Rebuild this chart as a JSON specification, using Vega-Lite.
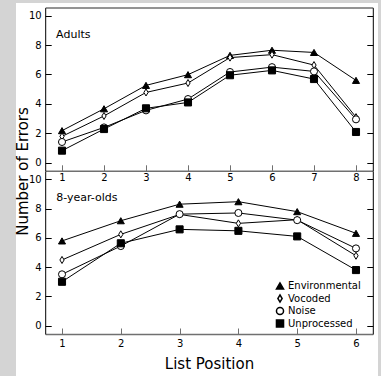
{
  "$schema": "https://vega.github.io/schema/vega-lite/v6.json",
  "background": "#d4d4d4",
  "padding": {"left": 15, "top": 3, "right": 4, "bottom": 0},
  "spacing": 0,
  "bounds": "flush",
  "config": {
    "font": "DejaVu Sans",
    "view": {"fill": "white", "stroke": null},
    "axis": {"labelFont": "DejaVu Sans", "labelFontSize": 10, "labelColor": "black", "domainColor": "black", "tickColor": "black", "grid": false, "titleFont": "DejaVu Sans", "titleFontWeight": "normal", "titleColor": "black", "titleFontSize": 15},
    "legend": {"labelFont": "DejaVu Sans", "labelFontSize": 10, "labelColor": "black"}
  },
  "data": {"values": [
    {"group": "Adults", "series": "Environmental", "pos": 1, "errors": 2.18},
    {"group": "Adults", "series": "Environmental", "pos": 2, "errors": 3.67},
    {"group": "Adults", "series": "Environmental", "pos": 3, "errors": 5.26},
    {"group": "Adults", "series": "Environmental", "pos": 4, "errors": 5.99},
    {"group": "Adults", "series": "Environmental", "pos": 5, "errors": 7.3},
    {"group": "Adults", "series": "Environmental", "pos": 6, "errors": 7.65},
    {"group": "Adults", "series": "Environmental", "pos": 7, "errors": 7.5},
    {"group": "Adults", "series": "Environmental", "pos": 8, "errors": 5.6},
    {"group": "Adults", "series": "Vocoded", "pos": 1, "errors": 1.79},
    {"group": "Adults", "series": "Vocoded", "pos": 2, "errors": 3.18},
    {"group": "Adults", "series": "Vocoded", "pos": 3, "errors": 4.78},
    {"group": "Adults", "series": "Vocoded", "pos": 4, "errors": 5.42},
    {"group": "Adults", "series": "Vocoded", "pos": 5, "errors": 7.15},
    {"group": "Adults", "series": "Vocoded", "pos": 6, "errors": 7.35},
    {"group": "Adults", "series": "Vocoded", "pos": 7, "errors": 6.64},
    {"group": "Adults", "series": "Vocoded", "pos": 8, "errors": 3.1},
    {"group": "Adults", "series": "Noise", "pos": 1, "errors": 1.41},
    {"group": "Adults", "series": "Noise", "pos": 2, "errors": 2.4},
    {"group": "Adults", "series": "Noise", "pos": 3, "errors": 3.56},
    {"group": "Adults", "series": "Noise", "pos": 4, "errors": 4.33},
    {"group": "Adults", "series": "Noise", "pos": 5, "errors": 6.17},
    {"group": "Adults", "series": "Noise", "pos": 6, "errors": 6.5},
    {"group": "Adults", "series": "Noise", "pos": 7, "errors": 6.21},
    {"group": "Adults", "series": "Noise", "pos": 8, "errors": 2.95},
    {"group": "Adults", "series": "Unprocessed", "pos": 1, "errors": 0.82},
    {"group": "Adults", "series": "Unprocessed", "pos": 2, "errors": 2.29},
    {"group": "Adults", "series": "Unprocessed", "pos": 3, "errors": 3.7},
    {"group": "Adults", "series": "Unprocessed", "pos": 4, "errors": 4.1},
    {"group": "Adults", "series": "Unprocessed", "pos": 5, "errors": 5.95},
    {"group": "Adults", "series": "Unprocessed", "pos": 6, "errors": 6.28},
    {"group": "Adults", "series": "Unprocessed", "pos": 7, "errors": 5.69},
    {"group": "Adults", "series": "Unprocessed", "pos": 8, "errors": 2.09},
    {"group": "Kids", "series": "Environmental", "pos": 1, "errors": 5.79},
    {"group": "Kids", "series": "Environmental", "pos": 2, "errors": 7.17},
    {"group": "Kids", "series": "Environmental", "pos": 3, "errors": 8.3},
    {"group": "Kids", "series": "Environmental", "pos": 4, "errors": 8.47},
    {"group": "Kids", "series": "Environmental", "pos": 5, "errors": 7.79},
    {"group": "Kids", "series": "Environmental", "pos": 6, "errors": 6.31},
    {"group": "Kids", "series": "Vocoded", "pos": 1, "errors": 4.49},
    {"group": "Kids", "series": "Vocoded", "pos": 2, "errors": 6.24},
    {"group": "Kids", "series": "Vocoded", "pos": 3, "errors": 7.6},
    {"group": "Kids", "series": "Vocoded", "pos": 4, "errors": 6.99},
    {"group": "Kids", "series": "Vocoded", "pos": 5, "errors": 7.24},
    {"group": "Kids", "series": "Vocoded", "pos": 6, "errors": 4.78},
    {"group": "Kids", "series": "Noise", "pos": 1, "errors": 3.51},
    {"group": "Kids", "series": "Noise", "pos": 2, "errors": 5.44},
    {"group": "Kids", "series": "Noise", "pos": 3, "errors": 7.62},
    {"group": "Kids", "series": "Noise", "pos": 4, "errors": 7.7},
    {"group": "Kids", "series": "Noise", "pos": 5, "errors": 7.21},
    {"group": "Kids", "series": "Noise", "pos": 6, "errors": 5.28},
    {"group": "Kids", "series": "Unprocessed", "pos": 1, "errors": 3.0},
    {"group": "Kids", "series": "Unprocessed", "pos": 2, "errors": 5.63},
    {"group": "Kids", "series": "Unprocessed", "pos": 3, "errors": 6.58},
    {"group": "Kids", "series": "Unprocessed", "pos": 4, "errors": 6.48},
    {"group": "Kids", "series": "Unprocessed", "pos": 5, "errors": 6.1},
    {"group": "Kids", "series": "Unprocessed", "pos": 6, "errors": 3.8}
  ]},
  "resolve": {"scale": {"shape": "independent", "fill": "independent"}},
  "vconcat": [
    {
      "width": 362,
      "height": 182,
      "transform": [{"filter": "datum.group === 'Adults'"}],
      "resolve": {"scale": {"x": "independent", "y": "independent"}},
      "layer": [
        {
          "mark": {"type": "line", "color": "black", "strokeWidth": 1},
          "encoding": {
            "x": {"field": "pos", "type": "quantitative", "scale": {"domain": [0.6, 8.4], "range": [29.2, 356.8], "nice": false, "zero": false},
              "axis": {"orient": "bottom", "offset": -14.2, "values": [1, 2, 3, 4, 5, 6, 7, 8], "format": "d", "tickSize": -6, "labelPadding": 8, "title": null, "domainColor": "#707070", "domainWidth": 1.5, "tickColor": "#707070"}},
            "y": {"field": "errors", "type": "quantitative", "scale": {"domain": [-0.55, 10.55], "range": [167.8, 4.6], "nice": false, "zero": false},
              "axis": {"orient": "left", "offset": -29.2, "values": [0, 2, 4, 6, 8, 10], "tickSize": -6, "labelPadding": 10, "title": null}},
            "detail": {"field": "series"}
          }
        },
        {
          "mark": {"type": "point", "stroke": "black", "strokeWidth": 1, "opacity": 1, "size": 50},
          "encoding": {
            "x": {"field": "pos", "type": "quantitative", "scale": {"domain": [0.6, 8.4], "range": [29.2, 356.8], "nice": false, "zero": false},
              "axis": {"orient": "top", "offset": -4.6, "labels": false, "ticks": false, "title": null, "domainColor": "#707070", "domainWidth": 1.5}},
            "y": {"field": "errors", "type": "quantitative", "scale": {"domain": [-0.55, 10.55], "range": [167.8, 4.6], "nice": false, "zero": false},
              "axis": {"orient": "right", "offset": -5.2, "values": [0, 2, 4, 6, 8, 10], "labels": false, "tickSize": -6, "title": null}},
            "shape": {"field": "series", "type": "nominal", "scale": {"domain": ["Environmental", "Vocoded", "Noise", "Unprocessed"], "range": ["triangle-up", "M0,-1L0.6,0L0,1L-0.6,0Z", "circle", "square"]}, "legend": null},
            "fill": {"field": "series", "type": "nominal", "scale": {"domain": ["Environmental", "Vocoded", "Noise", "Unprocessed"], "range": ["black", "white", "white", "black"]}, "legend": null}
          }
        },
        {
          "data": {"values": [{"label": "Adults"}]},
          "mark": {"type": "text", "align": "left", "baseline": "middle", "fontSize": 11, "color": "black"},
          "encoding": {
            "x": {"datum": 0.86, "type": "quantitative", "scale": {"domain": [0.6, 8.4], "range": [29.2, 356.8], "nice": false, "zero": false}, "axis": null},
            "y": {"datum": 8.69, "type": "quantitative", "scale": {"domain": [-0.55, 10.55], "range": [167.8, 4.6], "nice": false, "zero": false}, "axis": null},
            "text": {"field": "label"}
          }
        }
      ]
    },
    {
      "width": 362,
      "height": 191,
      "transform": [{"filter": "datum.group === 'Kids'"}],
      "resolve": {"scale": {"x": "independent", "y": "independent"}},
      "layer": [
        {
          "mark": {"type": "line", "color": "black", "strokeWidth": 1},
          "encoding": {
            "x": {"field": "pos", "type": "quantitative", "scale": {"domain": [0.714, 6.286], "range": [29.2, 356.8], "nice": false, "zero": false},
              "axis": {"orient": "bottom", "offset": -42, "values": [1, 2, 3, 4, 5, 6], "format": "d", "tickSize": -6, "labelPadding": 10, "title": "List Position", "titlePadding": 8, "domainColor": "#707070", "domainWidth": 1.5, "tickColor": "#707070"}},
            "y": {"field": "errors", "type": "quantitative", "scale": {"domain": [-0.567, 10.567], "range": [149, -14], "nice": false, "zero": false},
              "axis": {"orient": "left", "offset": -29.2, "values": [0, 2, 4, 6, 8, 10], "tickSize": -6, "labelPadding": 10, "title": "Number of Errors", "titleAngle": 270, "titleAlign": "center", "titleBaseline": "middle", "titleX": -23, "titleY": -14}},
            "detail": {"field": "series"}
          }
        },
        {
          "mark": {"type": "point", "stroke": "black", "strokeWidth": 1, "opacity": 1, "size": 50},
          "encoding": {
            "x": {"field": "pos", "type": "quantitative", "scale": {"domain": [0.714, 6.286], "range": [29.2, 356.8], "nice": false, "zero": false}, "axis": null},
            "y": {"field": "errors", "type": "quantitative", "scale": {"domain": [-0.567, 10.567], "range": [149, -14], "nice": false, "zero": false},
              "axis": {"orient": "right", "offset": -5.2, "values": [0, 2, 4, 6, 8, 10], "labels": false, "tickSize": -6, "title": null}},
            "shape": {"field": "series", "type": "nominal", "scale": {"domain": ["Environmental", "Vocoded", "Noise", "Unprocessed"], "range": ["triangle-up", "M0,-1L0.6,0L0,1L-0.6,0Z", "circle", "square"]},
              "legend": {"orient": "none", "legendX": 259, "legendY": 96, "title": null, "padding": 0, "symbolSize": 50, "labelFontSize": 10, "labelOffset": 3, "rowPadding": -1.5,
                "encode": {"symbols": {"update": {"stroke": {"value": "black"}, "strokeWidth": {"value": 1}}}}}},
            "fill": {"field": "series", "type": "nominal", "scale": {"domain": ["Environmental", "Vocoded", "Noise", "Unprocessed"], "range": ["black", "white", "white", "black"]},
              "legend": {"orient": "none", "legendX": 259, "legendY": 96, "title": null, "padding": 0, "symbolSize": 50, "labelFontSize": 10, "labelOffset": 3, "rowPadding": -1.5,
                "encode": {"symbols": {"update": {"stroke": {"value": "black"}, "strokeWidth": {"value": 1}}}}}}
          }
        },
        {
          "data": {"values": [{"label": "8-year-olds"}]},
          "mark": {"type": "text", "align": "left", "baseline": "middle", "fontSize": 11, "color": "black"},
          "encoding": {
            "x": {"datum": 0.9, "type": "quantitative", "scale": {"domain": [0.714, 6.286], "range": [29.2, 356.8], "nice": false, "zero": false}, "axis": null},
            "y": {"datum": 8.72, "type": "quantitative", "scale": {"domain": [-0.567, 10.567], "range": [149, -14], "nice": false, "zero": false}, "axis": null},
            "text": {"field": "label"}
          }
        }
      ]
    }
  ]
}
